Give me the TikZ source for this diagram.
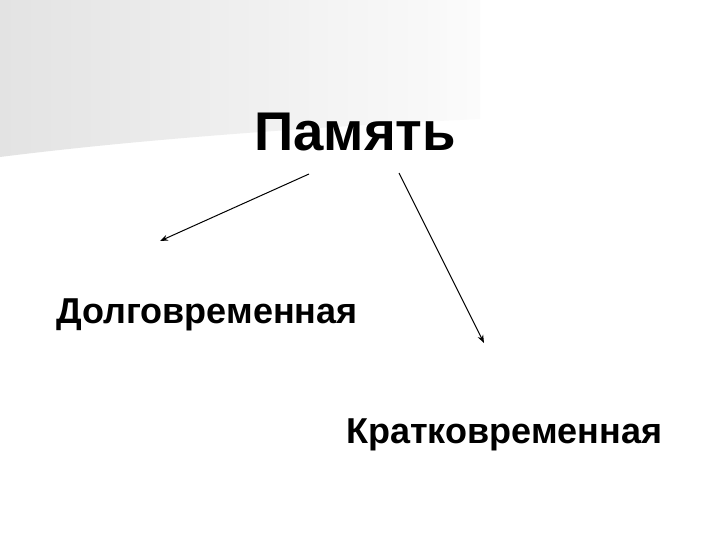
\documentclass[tikz,border=0pt]{standalone}
\usepackage{fontspec}
\setmainfont{Liberation Sans}
\usetikzlibrary{arrows.meta}
\begin{document}
\begin{tikzpicture}[x=1pt,y=-1pt,
  lbl/.style={inner sep=0pt,anchor=base west,font=\bfseries\fontsize{36}{42}\selectfont},
  ttl/.style={inner sep=0pt,anchor=base west,font=\bfseries\fontsize{54.5}{62}\selectfont},
  conn/.style={draw=black,line width=1pt,-{Stealth[length=8pt,width=6pt]}}]
\useasboundingbox (0,0) rectangle (720,540);
\fill[white] (0,0) rectangle (720,540);
\shade[left color=black!11,right color=black!1.5]
  (0,0) -- (480,0) -- (480,119) .. controls (330,126) and (150,138) .. (0,157) -- cycle;
\node[ttl] (pam) at (254,151) {Память};
\node[lbl] (dolg) at (56,323) {Долговременная};
\node[lbl] (krat) at (346,443) {Кратковременная};
\coordinate (s1) at (309,174);
\coordinate (e1) at (160,241);
\coordinate (s2) at (399,173);
\coordinate (e2) at (484,343);
\draw[conn] (s1) -- (e1);
\draw[conn] (s2) -- (e2);
\end{tikzpicture}
\end{document}
